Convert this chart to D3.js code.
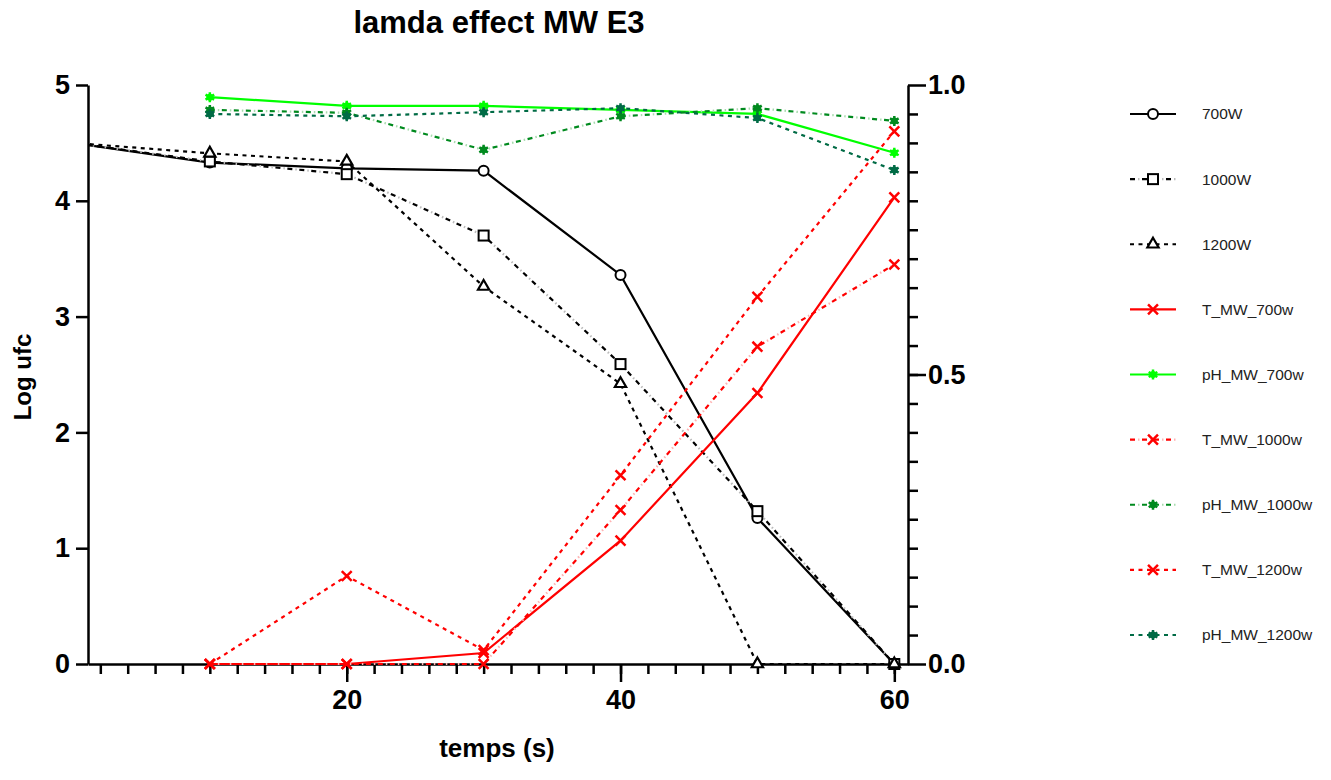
<!DOCTYPE html>
<meta charset="utf-8">
<head>
<style>
body { margin: 0; background: #fff; }
text { font-family: "Liberation Sans", Arial, sans-serif; }
.axis path, .axis line { stroke: #000; stroke-width: 2.5; }
.axis text { font-size: 27px; font-weight: bold; fill: #000; }
.legend text { font-size: 15.5px; fill: #222; }
</style>
</head>
<body>
<svg width="1331" height="780"></svg>
<script src="https://d3js.org/d3.v7.min.js"></script>
<script>
// data
const times = [0, 10, 20, 30, 40, 50, 60];
const w700 = [4.5, 4.33, 4.28, 4.26, 3.36, 1.26, 0];
const w1000 = [4.5, 4.34, 4.23, 3.70, 2.59, 1.32, 0];
const w1200 = [4.5, 4.41, 4.34, 3.26, 2.42, 0, 0];
const tMw700 = [null, 0, 0, 0.019, 0.213, 0.468, 0.806];
const phMw700 = [null, 0.979, 0.964, 0.964, 0.957, 0.950, 0.883];
const tMw1000 = [null, 0, 0, 0, 0.266, 0.548, 0.690];
const phMw1000 = [null, 0.957, 0.952, 0.888, 0.946, 0.960, 0.938];
const tMw1200 = [null, 0, 0.152, 0.024, 0.326, 0.634, 0.920];
const phMw1200 = [null, 0.950, 0.946, 0.953, 0.960, 0.943, 0.853];
const leftTicks = [0, 1, 2, 3, 4, 5];
const rightTicks = [0, 0.5, 1];
const xTicks = [20, 40, 60];

const series = [
    {name: '700W', values: w700, axis: 'L', color: '#000', dash: null, marker: 'circle'},
    {name: '1000W', values: w1000, axis: 'L', color: '#000', dash: 'dashdot', dot: '#bbb', marker: 'square'},
    {name: '1200W', values: w1200, axis: 'L', color: '#000', dash: '4,4.5', marker: 'triangle'},
    {name: 'T_MW_700w', values: tMw700, axis: 'R', color: '#ff0000', dash: null, marker: 'cross'},
    {name: 'pH_MW_700w', values: phMw700, axis: 'R', color: '#00ff00', dash: null, marker: 'star'},
    {name: 'T_MW_1000w', values: tMw1000, axis: 'R', color: '#ff0000', dash: 'dashdot', dot: '#ffb3b3', marker: 'cross'},
    {name: 'pH_MW_1000w', values: phMw1000, axis: 'R', color: '#008a1e', dash: 'dashdot', dot: '#a8dcae', marker: 'star'},
    {name: 'T_MW_1200w', values: tMw1200, axis: 'R', color: '#ff0000', dash: '4,4.5', marker: 'cross'},
    {name: 'pH_MW_1200w', values: phMw1200, axis: 'R', color: '#006b45', dash: '4,4.5', marker: 'star'}
];

let svg = d3.select('svg');
let plotL = 88, plotR = 908, plotT = 85, plotB = 664;

let x = d3.scaleLinear().domain([1.1, 61]).range([plotL, plotR]);
let yL = d3.scaleLinear().domain([0, 5]).range([plotB, plotT]);
let yR = d3.scaleLinear().domain([0, 1]).range([plotB, plotT]);

svg.append('defs').append('clipPath').attr('id', 'plot')
    .append('rect').attr('x', plotL).attr('y', 0).attr('width', plotR - plotL).attr('height', plotB + 5);

// title & axis titles
svg.append('text').attr('x', 499).attr('y', 33).attr('text-anchor', 'middle')
    .style('font-size', '31px').style('font-weight', 'bold').text('lamda effect MW E3');
svg.append('text').attr('transform', 'translate(31, 377) rotate(-90)').attr('text-anchor', 'middle')
    .style('font-size', '24px').style('font-weight', 'bold').text('Log ufc');
svg.append('text').attr('x', 497).attr('y', 757).attr('text-anchor', 'middle')
    .style('font-size', '26px').style('font-weight', 'bold').text('temps (s)');

// axes
svg.append('g').attr('class', 'axis')
    .attr('transform', `translate(0, ${plotB})`)
    .call(d3.axisBottom(x).tickValues(d3.range(2, 61, 2)).tickSize(10).tickSizeOuter(0).tickFormat(''));
svg.append('g').attr('class', 'axis')
    .attr('transform', `translate(0, ${plotB})`)
    .call(d3.axisBottom(x).tickValues(xTicks).tickSize(18).tickSizeOuter(0).tickPadding(8))
    .call(g => g.select('.domain').remove());
svg.append('g').attr('class', 'axis')
    .attr('transform', `translate(${plotL}, 0)`)
    .call(d3.axisLeft(yL).tickValues(leftTicks).tickSize(12).tickSizeOuter(0).tickPadding(6).tickFormat(d3.format('d')));
svg.append('g').attr('class', 'axis')
    .attr('transform', `translate(${plotR}, 0)`)
    .call(d3.axisRight(yR).tickValues(d3.range(0.05, 1, 0.05)).tickSize(10).tickSizeOuter(0).tickFormat(''));
svg.append('g').attr('class', 'axis')
    .attr('transform', `translate(${plotR}, 0)`)
    .call(d3.axisRight(yR).tickValues(rightTicks).tickSize(18).tickSizeOuter(0).tickPadding(2).tickFormat(d3.format('.1f')))
    .call(g => g.select('.domain').remove());

// line styling helper
function styleLine(sel, s, main) {
    sel.attr('fill', 'none').attr('stroke-width', 2.2);
    if (!s.dash) {
        sel.attr('stroke', s.color);
    } else if (s.dash === 'dashdot') {
        if (main) sel.attr('stroke', s.color).attr('stroke-dasharray', '5,7');
        else sel.attr('stroke', s.dot).attr('stroke-dasharray', '1.5,10.5').attr('stroke-dashoffset', -8);
    } else {
        sel.attr('stroke', s.color).attr('stroke-dasharray', s.dash);
    }
}

function drawMarker(g, s, cx, cy) {
    if (s.marker === 'circle') {
        g.append('circle').attr('cx', cx).attr('cy', cy).attr('r', 5)
            .attr('fill', '#fff').attr('stroke', '#000').attr('stroke-width', 2);
    } else if (s.marker === 'square') {
        g.append('rect').attr('x', cx - 5).attr('y', cy - 5).attr('width', 10).attr('height', 10)
            .attr('fill', '#fff').attr('stroke', '#000').attr('stroke-width', 2);
    } else if (s.marker === 'triangle') {
        g.append('path').attr('transform', `translate(${cx},${cy})`)
            .attr('d', d3.symbol(d3.symbolTriangle, 55)())
            .attr('fill', '#fff').attr('stroke', '#000').attr('stroke-width', 2.2);
    } else if (s.marker === 'cross') {
        g.append('path').attr('transform', `translate(${cx},${cy}) rotate(45)`)
            .attr('d', 'M-7,0H7M0,-7V7')
            .attr('stroke', s.color).attr('stroke-width', 2.5).attr('fill', 'none');
    } else {
        g.append('path').attr('transform', `translate(${cx},${cy})`)
            .attr('d', d3.symbol(d3.symbolAsterisk, 70)())
            .attr('stroke', s.color).attr('stroke-width', 2.5).attr('fill', 'none');
        g.append('circle').attr('cx', cx).attr('cy', cy).attr('r', 3.5).attr('fill', s.color);
    }
}

let plot = svg.append('g').attr('clip-path', 'url(#plot)');

series.forEach(s => {
    let yS = s.axis === 'L' ? yL : yR;
    let pts = times.map((t, i) => ({t: t, v: s.values[i]}));
    let line = d3.line().defined(d => d.v !== null).x(d => x(d.t)).y(d => yS(d.v));
    plot.append('path').datum(pts).attr('d', line).call(styleLine, s, true);
    if (s.dash === 'dashdot') plot.append('path').datum(pts).attr('d', line).call(styleLine, s, false);
});

let markers = svg.append('g');
series.forEach(s => {
    let yS = s.axis === 'L' ? yL : yR;
    times.forEach((t, i) => {
        if (s.values[i] === null || t < x.domain()[0]) return;
        drawMarker(markers, s, x(t), yS(s.values[i]));
    });
});

// legend
let ly = d3.scalePoint().domain(series.map(s => s.name)).range([114, 635]);
let legend = svg.append('g').attr('class', 'legend');
series.forEach(s => {
    let yy = ly(s.name);
    let seg = [{t: 0}, {t: 1}];
    let lx = d3.scaleLinear().domain([0, 1]).range([1130, 1176]);
    let line = d3.line().x(d => lx(d.t)).y(yy);
    legend.append('path').datum(seg).attr('d', line).call(styleLine, s, true);
    if (s.dash === 'dashdot') legend.append('path').datum(seg).attr('d', line).call(styleLine, s, false);
    drawMarker(legend, s, 1153, yy);
    legend.append('text').attr('x', 1202).attr('y', yy).attr('dy', '0.35em').text(s.name);
});
</script>
</body>
</html>
